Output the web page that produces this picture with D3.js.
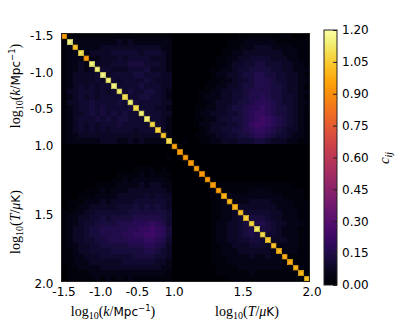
<!doctype html>
<html>
<head>
<meta charset="utf-8">
<script src="https://cdn.jsdelivr.net/npm/d3@7"></script>
<style>
  body{margin:0;background:#fff;}
  svg{display:block;}
  .tick text{font-family:"DejaVu Sans",sans-serif;font-size:12px;fill:#000;}
</style>
</head>
<body>
<svg id="chart" width="399" height="330"></svg>
<script>
// axis tick labels
var kTicks = [-1.5, -1.0, -0.5];
var tTicks = [1.0, 1.5, 2.0];
var cbTicks = [0.00, 0.15, 0.30, 0.45, 0.60, 0.75, 0.90, 1.05, 1.20];
var nK = 20, nT = 25;

// diagonal c_ii
var diag = [0.93, 1.16, 1.03, 1.10, 0.93, 1.15, 1.14, 1.16, 1.14, 1.15,
            1.13, 1.10, 1.14, 1.09, 1.14, 1.13, 1.09, 1.07, 1.04, 1.09,
            0.95, 0.94, 0.93, 0.93, 0.94, 0.93, 0.94, 0.94, 0.95, 0.98,
            1.00, 0.99, 1.03, 1.05, 1.08, 1.12, 1.09, 1.05, 1.03, 1.00,
            0.98, 0.98, 0.99, 1.00, 1.02];

// off-diagonal cells, lower triangle, one digit per cell in units of 0.025
// k rows vs k cols
var kkRows = [
  "",
  "1",
  "12",
  "122",
  "1222",
  "12232",
  "122323",
  "1233334",
  "12333343",
  "123434344",
  "1334443434",
  "12343434444",
  "133445444454",
  "1234454544445",
  "12334545454544",
  "123444545455444",
  "1234343444544444",
  "12343434344443444",
  "122333333333333333",
  "1222222333223232222"
];
// T rows vs k cols
var tkRows = [
  "00000000000000000000",
  "00000000000000000000",
  "00000000000000000001",
  "00000000000000000000",
  "00000000000001111010",
  "00000000001111212111",
  "00000000011212222221",
  "00000011112222323322",
  "00001112122233333332",
  "00011122223333343433",
  "01112223233334444443",
  "01122333334445454543",
  "11223344444455555554",
  "12233445455556666654",
  "12234455556667778764",
  "12334556666677889875",
  "12334556666778899875",
  "12334455666677788764",
  "12233445555566677653",
  "11233444455555566543",
  "11223334444445555443",
  "11222333333444444332",
  "01122223333333333322",
  "01111222222222222221",
  "01111121212121111111"
];
// T rows vs T cols
var ttRows = [
  "",
  "0",
  "00",
  "000",
  "0000",
  "00000",
  "000000",
  "0000000",
  "00000001",
  "000000011",
  "0000000112",
  "00000001122",
  "000000011223",
  "0000000112234",
  "00000001223345",
  "000000012233456",
  "0000000122334565",
  "00000001223344554",
  "000000011223334443",
  "0000000112223333332",
  "00000001112222322322",
  "000000011122222222221",
  "0000000011112222222211",
  "00000000111111211111111",
  "000000000011111111111111"
];

var lower = kkRows.concat(tkRows.map(function(r, i) { return r + ttRows[i]; }));
var n = nK + nT;
var cells = [];
for (var i = 0; i < n; i++) {
  for (var j = 0; j < n; j++) {
    var v;
    if (i == j) v = diag[i];
    else if (i > j) v = +(lower[i][j] || 0) * 0.025;
    else v = +(lower[j][i] || 0) * 0.025;
    cells.push({i: i, j: j, v: v});
  }
}

var svg = d3.select("#chart");
var plotLeft = 61.5, plotTop = 33.5, size = 248;

var bandX = d3.scaleBand().domain(d3.range(n)).range([plotLeft, plotLeft + size]);
var bandY = d3.scaleBand().domain(d3.range(n)).range([plotTop, plotTop + size]);
var cw = bandX.bandwidth();
var color = d3.scaleSequential(d3.interpolateInferno).domain([0, 1.2]);

svg.append("g").selectAll("rect")
  .data(cells)
  .enter()
  .append("rect")
  .attr("x", d => bandX(d.j))
  .attr("y", d => bandY(d.i))
  .attr("width", cw + 0.3)
  .attr("height", cw + 0.3)
  .attr("fill", d => color(d.v))
  .attr("shape-rendering", "crispEdges");

// soft dark rim round the diagonal squares
svg.append("g").selectAll("rect")
  .data(cells.filter(d => d.i == d.j))
  .enter()
  .append("rect")
  .attr("x", d => bandX(d.j) + 0.35)
  .attr("y", d => bandY(d.i) + 0.35)
  .attr("width", cw - 0.7)
  .attr("height", cw - 0.7)
  .attr("fill", "none")
  .attr("stroke", d => d3.color(color(d.v)).darker(1.1))
  .attr("stroke-width", 0.7);

svg.append("rect")
  .attr("x", plotLeft).attr("y", plotTop)
  .attr("width", size).attr("height", size)
  .attr("fill", "none").attr("stroke", "#222").attr("stroke-width", 1);

// piecewise axis: k block then T block
var xPos = d3.scaleLinear().domain([-1.5, 0, 1, 2])
  .range([plotLeft, plotLeft + nK * cw, plotLeft + nK * cw, plotLeft + size]);
var yPos = d3.scaleLinear().domain([-1.5, 0, 1, 2])
  .range([plotTop, plotTop + nK * cw, plotTop + nK * cw, plotTop + size]);
var fmt = d => d3.format(".1f")(d).replace("\u2212", "-");

svg.append("g")
  .attr("transform", "translate(2," + (plotTop + size) + ")")
  .call(d3.axisBottom(xPos).tickValues(kTicks.concat(tTicks)).tickSize(0).tickPadding(6).tickFormat(fmt))
  .call(g => g.select(".domain").remove());

svg.append("g")
  .attr("transform", "translate(" + plotLeft + ",2)")
  .call(d3.axisLeft(yPos).tickValues(kTicks.concat(tTicks)).tickSize(0).tickPadding(8).tickFormat(fmt))
  .call(g => g.select(".domain").remove());

// axis labels, mathtext-like
function logLabel(g, sym, unitParts) {
  var t = g.append("text").attr("text-anchor", "middle")
    .style("font-family", "'Liberation Serif',serif").style("font-size", "14px");
  t.append("tspan").text("log");
  t.append("tspan").attr("dy", 3).style("font-size", "10px").text("10");
  t.append("tspan").attr("dy", -3).text("(");
  t.append("tspan").style("font-style", "italic").text(sym);
  t.append("tspan").text("/");
  unitParts(t);
  return t;
}
function kUnit(t) {
  t.append("tspan").style("font-family", "'DejaVu Sans',sans-serif").style("font-size", "12px").text("Mpc");
  t.append("tspan").attr("dy", -5).style("font-family", "'DejaVu Sans',sans-serif").style("font-size", "8.5px").text("\u22121");
  t.append("tspan").attr("dy", 5).text(")");
}
function tUnit(t) {
  t.append("tspan").style("font-style", "italic").text("\u03bc");
  t.append("tspan").style("font-family", "'DejaVu Sans',sans-serif").style("font-size", "12px").text("K");
  t.append("tspan").text(")");
}

logLabel(svg.append("g").attr("transform", "translate(113,316)"), "k", kUnit);
logLabel(svg.append("g").attr("transform", "translate(247,316)"), "T", tUnit);
logLabel(svg.append("g").attr("transform", "translate(20,86) rotate(-90)"), "k", kUnit);
logLabel(svg.append("g").attr("transform", "translate(20,222) rotate(-90)"), "T", tUnit);

// colorbar
var cbX = 324, cbW = 13, cbTop = 30, cbBot = 285;
var cy = d3.scaleLinear().domain([0, 1.2]).range([cbBot, cbTop]);
var grad = svg.append("defs").append("linearGradient")
  .attr("id", "cbgrad").attr("x1", 0).attr("y1", 1).attr("x2", 0).attr("y2", 0);
grad.selectAll("stop")
  .data(d3.range(0, 1.0001, 0.05))
  .enter()
  .append("stop")
  .attr("offset", d => d)
  .attr("stop-color", d => d3.interpolateInferno(d));
svg.append("rect")
  .attr("x", cbX).attr("y", cbTop)
  .attr("width", cbW).attr("height", cbBot - cbTop)
  .attr("fill", "url(#cbgrad)").attr("stroke", "#222").attr("stroke-width", 1);

svg.append("g")
  .attr("transform", "translate(" + (cbX + cbW) + ",0)")
  .call(d3.axisRight(cy).tickValues(cbTicks).tickSize(-4).tickPadding(5).tickFormat(d3.format(".2f")))
  .call(g => g.select(".domain").remove())
  .call(g => g.selectAll(".tick line").attr("stroke", "#222"));

var cl = svg.append("text")
  .attr("transform", "translate(389,158) rotate(-90)")
  .attr("text-anchor", "middle")
  .style("font-family", "'Liberation Serif',serif").style("font-size", "15px").style("font-style", "italic");
cl.append("tspan").text("c");
cl.append("tspan").attr("dy", 3).style("font-size", "10px").text("ij");
</script>
</body>
</html>
